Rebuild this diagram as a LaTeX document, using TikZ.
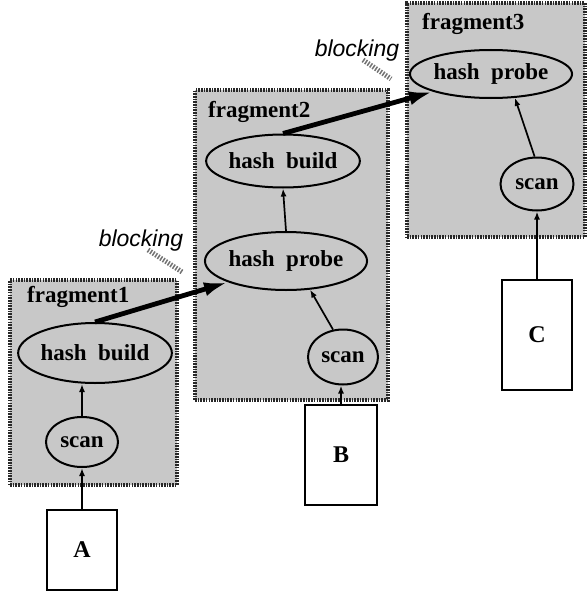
\documentclass[tikz,border=0pt]{standalone}
\usepackage{fontspec}
\setmainfont{Liberation Serif}
\newfontfamily\blkfont{Liberation Sans}
\usepackage{tikz}
\usetikzlibrary{arrows.meta, positioning, shapes.geometric}
\definecolor{fragfill}{RGB}{200, 200, 200}
\definecolor{fragedge}{RGB}{40, 40, 40}
\definecolor{hatchgray}{RGB}{115, 115, 115}
\tikzset{
    frag/.style   ={draw=fragedge, line width=3.4pt, dash pattern=on 1.6pt off 1.1pt,
                    fill=fragfill, rectangle, inner sep=0pt},
    fraglbl/.style={font=\fontsize{23}{26}\selectfont\bfseries, inner sep=0pt, anchor=base west},
    op/.style     ={draw, line width=2pt, ellipse, inner sep=0pt,
                    font=\fontsize{23}{28}\selectfont\bfseries},
    rel/.style    ={draw, line width=2pt, fill=white, rectangle, inner sep=0pt,
                    font=\fontsize{24}{28}\selectfont\bfseries},
    ar/.style     ={-{Latex[length=8pt, width=6pt]}, line width=1.7pt},
    bigar/.style  ={-{Latex[length=24pt, width=14pt]}, line width=4.8pt},
    blk/.style    ={font=\fontsize{23}{26}\selectfont\blkfont\itshape, inner sep=0pt},
    hatch/.style  ={draw=hatchgray, line width=5pt, dash pattern=on 1.5pt off 1.5pt}
}

\begin{document}
\begin{tikzpicture}[x=1pt, y=-1pt]
  \useasboundingbox (0,0) rectangle (588,594);

  % ---- fragments
  \node[frag, minimum width=167pt, minimum height=205pt] (f1) at (93.5,382.5) {};
  \node[frag, minimum width=193pt, minimum height=310pt] (f2) at (291.5,245) {};
  \node[frag, minimum width=178pt, minimum height=234pt] (f3) at (496,120) {};
  \node[fraglbl] (f1l) at (27,302) {fragment1};
  \node[fraglbl] (f2l) at (208,117) {fragment2};
  \node[fraglbl] (f3l) at (422,30)  {fragment3};

  % ---- operators
  \node[op, minimum width=136pt, minimum height=60pt] (hb1) at (95,353)  {hash\ \ build};
  \node[op, minimum width=72pt,  minimum height=50pt] (sc1) at (82,442)  {scan};
  \node[op, minimum width=133pt, minimum height=53pt] (hb2) at (283,161) {hash\ \ build};
  \node[op, minimum width=137pt, minimum height=58pt] (hp2) at (286,261) {hash\ \ probe};
  \node[op, minimum width=70pt,  minimum height=55pt] (sc2) at (343,357) {scan};
  \node[op, minimum width=143pt, minimum height=48pt] (hp3) at (491,74)  {hash\ \ probe};
  \node[op, minimum width=73pt,  minimum height=53pt] (sc3) at (537,184) {scan};

  % ---- relations
  \node[rel, minimum width=70pt, minimum height=80pt]  (A) at (82,550)  {A};
  \node[rel, minimum width=72pt, minimum height=100pt] (B) at (341,455) {B};
  \node[rel, minimum width=70pt, minimum height=110pt] (C) at (537,335) {C};

  % ---- pipelined edges
  \draw[ar] (A.north) -- (sc1.south);
  \draw[ar] (sc1.north) -- (sc1.north |- hb1.south);
  \draw[ar] (B.north) -- (B.north |- sc2.south);
  \draw[ar] (sc2.110) -- (hp2.-50);
  \draw[ar] (hp2.north) -- (hb2.south);
  \draw[ar] (C.north) -- (sc3.south);
  \draw[ar] (sc3.95) -- (hp3.-45);

  % ---- blocking edges
  \draw[bigar] (hb1.north) -- (hp2.south west);
  \draw[bigar] (hb2.north) -- (hp3.south west);
  \node[blk] (blk1) at (141,241) {blocking};
  \node[blk] (blk2) at (357,51)  {blocking};
  \draw[hatch] (blk1.south) ++(7,-2) -- ++(34,22);
  \draw[hatch] (blk2.south) ++(6,-2) -- ++(28,19);
\end{tikzpicture}
\end{document}
